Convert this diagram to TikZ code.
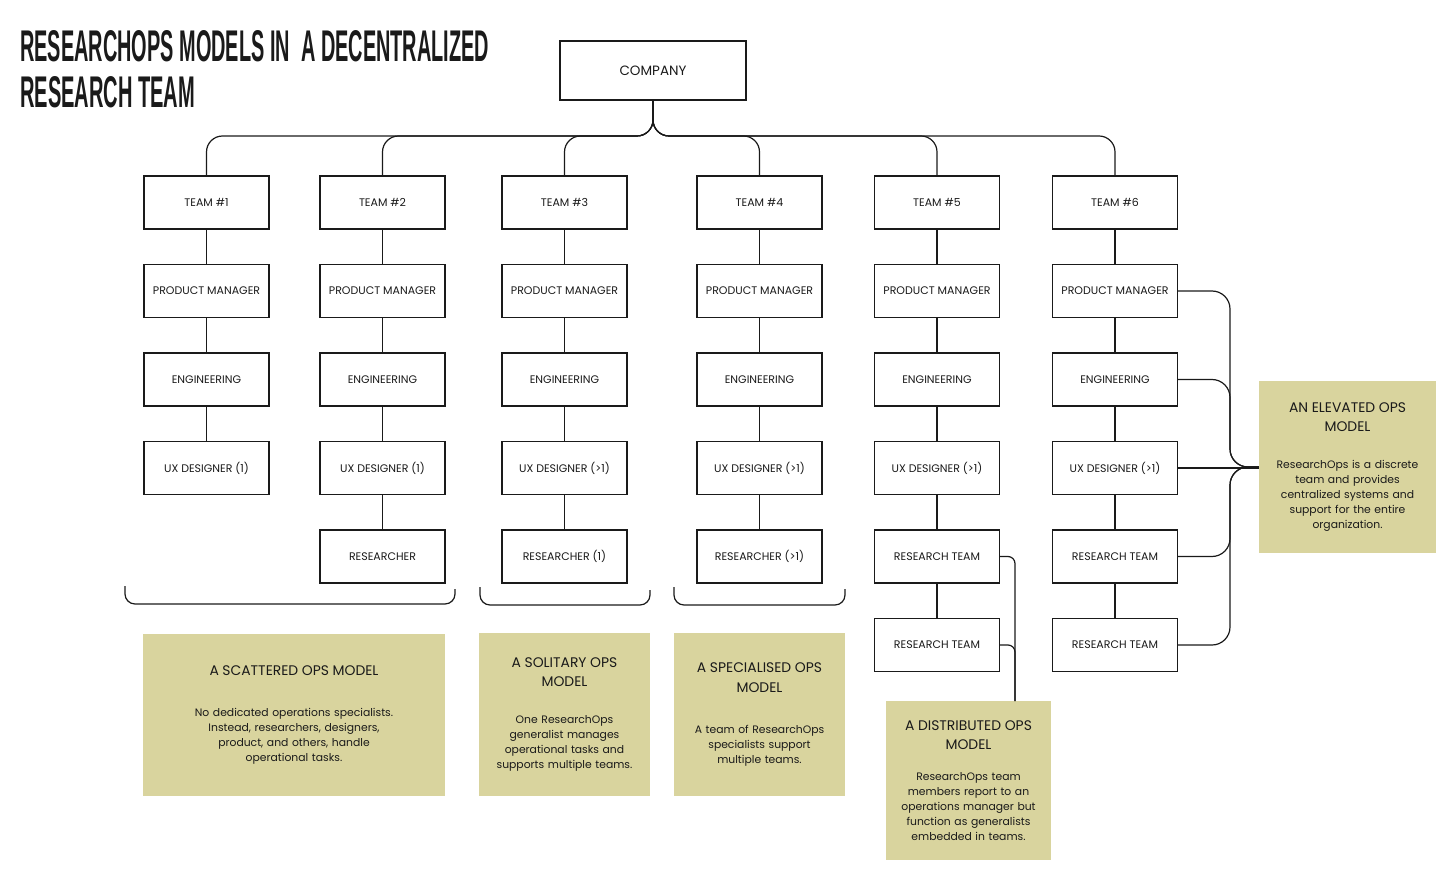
\documentclass[tikz,border=0pt]{standalone}
\usepackage{fontspec}
\usepackage{graphicx}
\usepackage{xcolor}
\setmainfont{Poppins}
\newfontfamily\headfont{Liberation Sans}
\usepackage{tikz}

\definecolor{opsfill}{RGB}{217,212,158}
\definecolor{inkgray}{RGB}{26,26,26}

\begin{document}
\begin{tikzpicture}[
  x=1pt, y=-1pt,
  font=\fontsize{11}{13}\selectfont,
  text=inkgray,
  role/.style={
    draw=inkgray, line width=1.1pt, align=center, inner sep=2pt,
    minimum width=125pt, minimum height=53pt
  },
  topbox/.style={role, minimum width=186pt, minimum height=59pt,
    font=\fontsize{13.5}{15}\selectfont},
  model/.style={
    fill=opsfill, align=center, inner sep=0pt,
    font=\fontsize{10.8}{15}\selectfont
  },
  link/.style={draw=inkgray, line width=1.2pt},
  heading/.style={anchor=base west, inner sep=0pt, font=\headfont\bfseries}
]
  \useasboundingbox (0,0) rectangle (1456,874);

  \node[heading] (title1) at (20,62)
    {\resizebox{469pt}{31pt}{RESEARCHOPS MODELS IN\ \ A DECENTRALIZED}};
  \node[heading] (title2) at (20,108)
    {\resizebox{175pt}{31pt}{RESEARCH TEAM}};

  \node[topbox] (company) at (653,70.5) {COMPANY};

  \node[role] (team1) at (206.5,202.5) {TEAM \#1};
  \node[role] (pm1) at (206.5,291) {PRODUCT MANAGER};
  \node[role] (eng1) at (206.5,379.5) {ENGINEERING};
  \node[role] (ux1) at (206.5,468) {UX DESIGNER (1)};

  \node[role] (team2) at (382.5,202.5) {TEAM \#2};
  \node[role] (pm2) at (382.5,291) {PRODUCT MANAGER};
  \node[role] (eng2) at (382.5,379.5) {ENGINEERING};
  \node[role] (ux2) at (382.5,468) {UX DESIGNER (1)};
  \node[role] (res2) at (382.5,556.5) {RESEARCHER};

  \node[role] (team3) at (564.5,202.5) {TEAM \#3};
  \node[role] (pm3) at (564.5,291) {PRODUCT MANAGER};
  \node[role] (eng3) at (564.5,379.5) {ENGINEERING};
  \node[role] (ux3) at (564.5,468) {UX DESIGNER (>1)};
  \node[role] (res3) at (564.5,556.5) {RESEARCHER (1)};

  \node[role] (team4) at (759.5,202.5) {TEAM \#4};
  \node[role] (pm4) at (759.5,291) {PRODUCT MANAGER};
  \node[role] (eng4) at (759.5,379.5) {ENGINEERING};
  \node[role] (ux4) at (759.5,468) {UX DESIGNER (>1)};
  \node[role] (res4) at (759.5,556.5) {RESEARCHER (>1)};

  \node[role] (team5) at (937,202.5) {TEAM \#5};
  \node[role] (pm5) at (937,291) {PRODUCT MANAGER};
  \node[role] (eng5) at (937,379.5) {ENGINEERING};
  \node[role] (ux5) at (937,468) {UX DESIGNER (>1)};
  \node[role] (rt5a) at (937,556.5) {RESEARCH TEAM};
  \node[role] (rt5b) at (937,645) {RESEARCH TEAM};

  \node[role] (team6) at (1115,202.5) {TEAM \#6};
  \node[role] (pm6) at (1115,291) {PRODUCT MANAGER};
  \node[role] (eng6) at (1115,379.5) {ENGINEERING};
  \node[role] (ux6) at (1115,468) {UX DESIGNER (>1)};
  \node[role] (rt6a) at (1115,556.5) {RESEARCH TEAM};
  \node[role] (rt6b) at (1115,645) {RESEARCH TEAM};

  % company to teams
  \coordinate (bus) at (653,136);
  \draw[link, rounded corners=16pt] (company.south) |- (team1.north |- bus) -- (team1.north);
  \draw[link, rounded corners=16pt] (company.south) |- (team2.north |- bus) -- (team2.north);
  \draw[link, rounded corners=16pt] (company.south) |- (team3.north |- bus) -- (team3.north);
  \draw[link, rounded corners=16pt] (company.south) |- (team4.north |- bus) -- (team4.north);
  \draw[link, rounded corners=16pt] (company.south) |- (team5.north |- bus) -- (team5.north);
  \draw[link, rounded corners=16pt] (company.south) |- (team6.north |- bus) -- (team6.north);

  \draw[link] (team1) -- (pm1) -- (eng1) -- (ux1);
  \draw[link] (team2) -- (pm2) -- (eng2) -- (ux2) -- (res2);
  \draw[link] (team3) -- (pm3) -- (eng3) -- (ux3) -- (res3);
  \draw[link] (team4) -- (pm4) -- (eng4) -- (ux4) -- (res4);
  \draw[link] (team5) -- (pm5) -- (eng5) -- (ux5) -- (rt5a) -- (rt5b);
  \draw[link] (team6) -- (pm6) -- (eng6) -- (ux6) -- (rt6a) -- (rt6b);

  % brackets under the first three models
  \draw[link, rounded corners=10pt] (125,586) |- (455,604) -- (455,589);
  \draw[link, rounded corners=10pt] (480,587) |- (650,605) -- (650,590);
  \draw[link, rounded corners=10pt] (674,587) |- (845,605) -- (845,589);

  \node[model, text width=302pt, minimum height=162pt] (scattered) at (294,715)
    {{\fontsize{13.9}{19.5}\selectfont A SCATTERED OPS MODEL\par}\vspace{26pt}
     No dedicated operations specialists.\\
     Instead, researchers, designers,\\
     product, and others, handle\\
     operational tasks.};
  \node[model, text width=171pt, minimum height=163pt] (solitary) at (564.5,714.5)
    {{\fontsize{13.9}{19.5}\selectfont A SOLITARY OPS\\MODEL\par}\vspace{22pt}
     One ResearchOps\\
     generalist manages\\
     operational tasks and\\
     supports multiple teams.};
  \node[model, text width=171pt, minimum height=163pt] (specialised) at (759.5,714.5)
    {{\fontsize{13.9}{19.5}\selectfont A SPECIALISED OPS\\MODEL\par}\vspace{26pt}
     A team of ResearchOps\\
     specialists support\\
     multiple teams.};
  \node[model, text width=165pt, minimum height=159pt] (distributed) at (968.5,780.5)
    {{\fontsize{13.9}{19.5}\selectfont A DISTRIBUTED OPS\\MODEL\par}\vspace{16pt}
     ResearchOps team\\
     members report to an\\
     operations manager but\\
     function as generalists\\
     embedded in teams.};
  \node[model, text width=177pt, minimum height=172pt] (elevated) at (1347.5,467)
    {{\fontsize{13.9}{19.5}\selectfont AN ELEVATED OPS\\MODEL\par}\vspace{22pt}
     ResearchOps is a discrete\\
     team and provides\\
     centralized systems and\\
     support for the entire\\
     organization.};

  % distributed model links
  \coordinate (dtop) at (1015,701);
  \draw[link, rounded corners=7pt] (rt5a.east) -| (dtop);
  \draw[link, rounded corners=7pt] (rt5b.east) -| (dtop);

  % elevated model links
  \coordinate (ebus) at (1230,467);
  \draw[link, rounded corners=18pt] (pm6.east) -| (ebus) -- (elevated.west);
  \draw[link, rounded corners=18pt] (eng6.east) -| (ebus) -- (elevated.west);
  \draw[link] (ux6.east) -- (ux6.east -| elevated.west);
  \draw[link, rounded corners=18pt] (rt6a.east) -| (ebus) -- (elevated.west);
  \draw[link, rounded corners=18pt] (rt6b.east) -| (ebus) -- (elevated.west);
\end{tikzpicture}
\end{document}
